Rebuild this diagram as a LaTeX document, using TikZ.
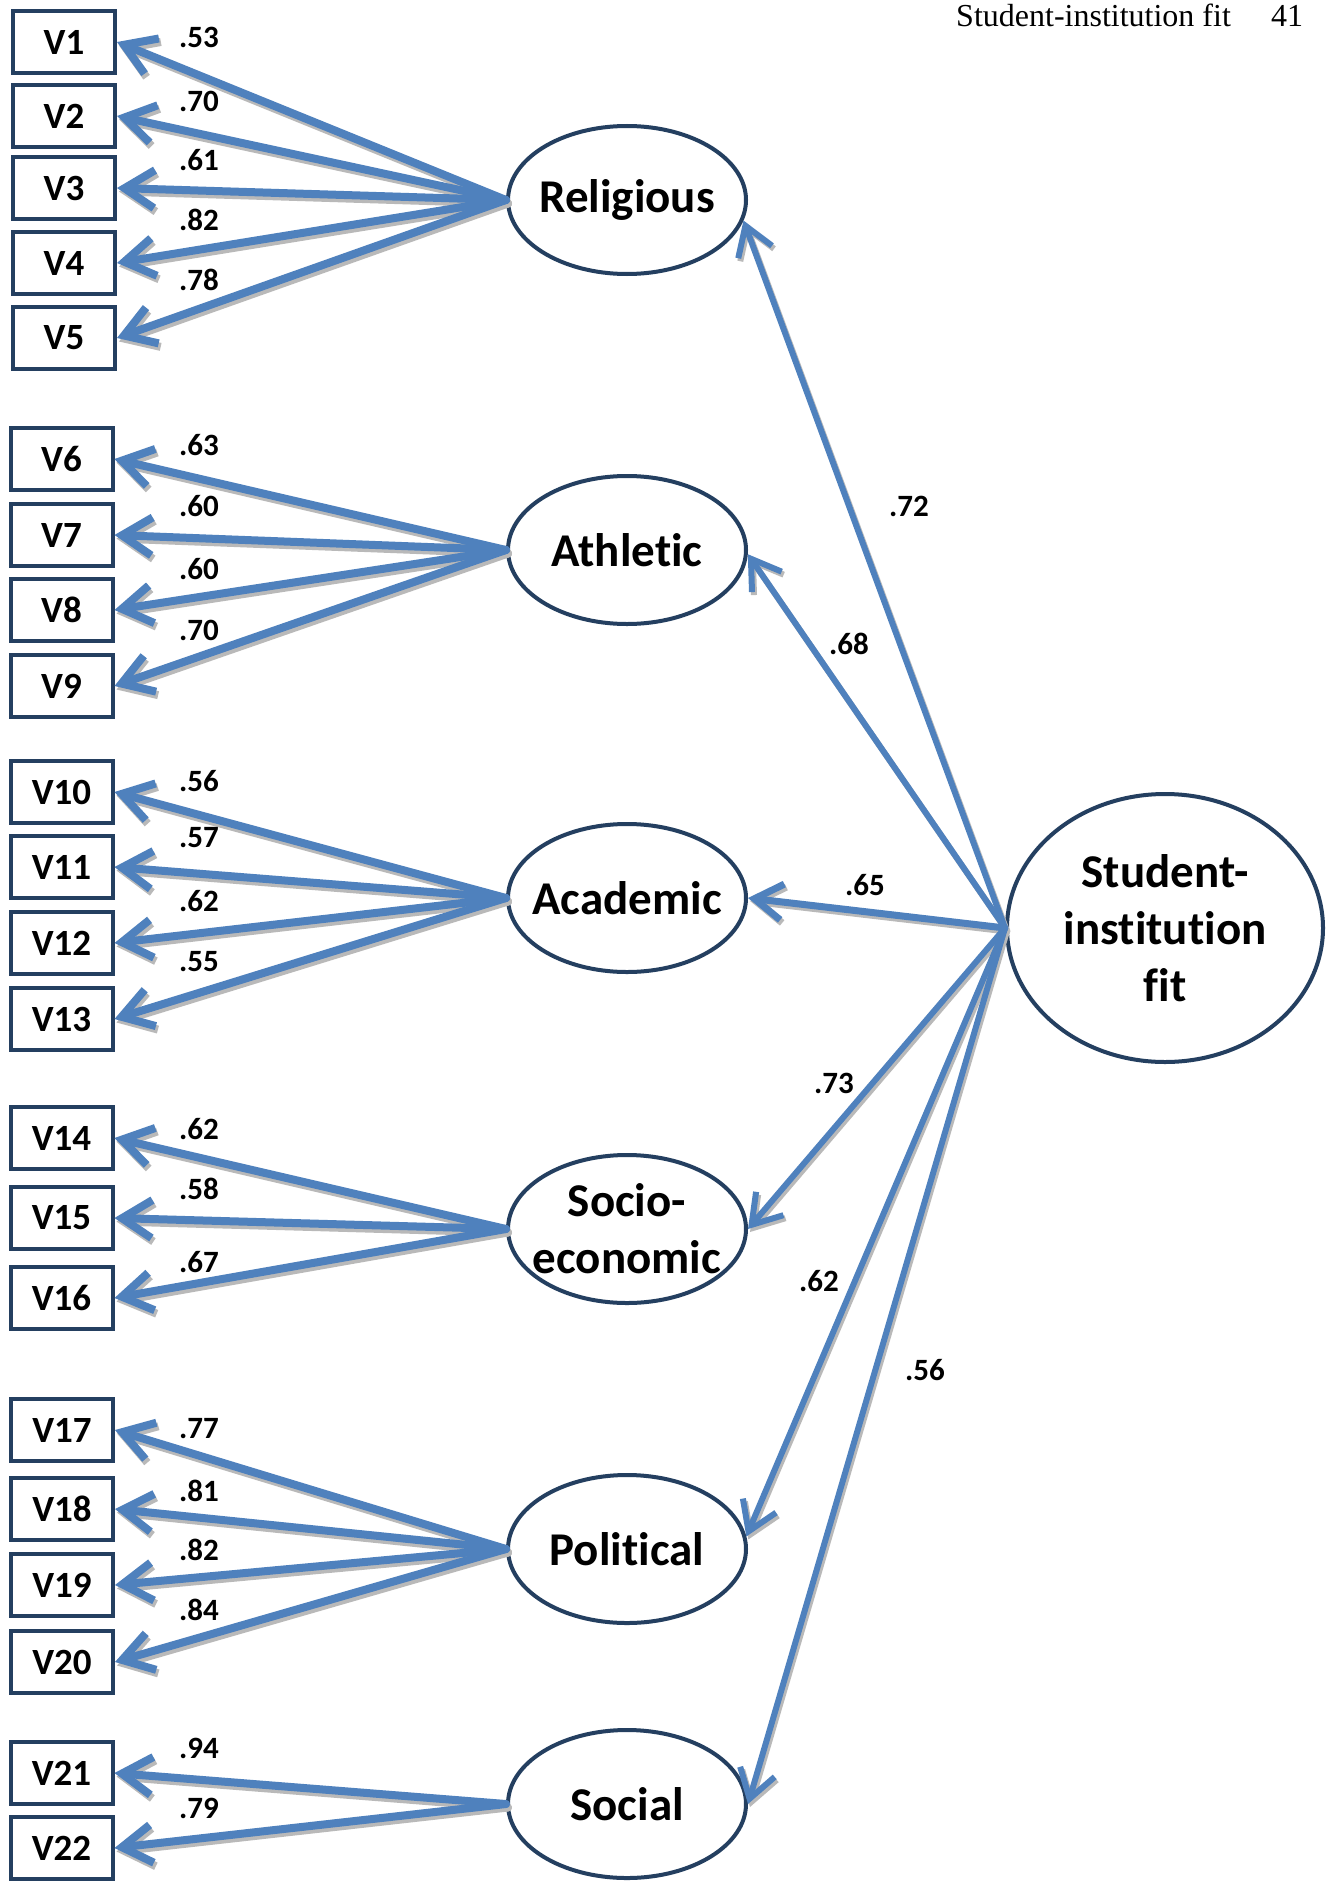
\documentclass[tikz,border=0pt]{standalone}
\usepackage{fontspec}
\setmainfont{Carlito}[Ligatures=NoCommon]
\newfontfamily\hdrfont{Liberation Serif}
\usetikzlibrary{arrows.meta,shapes.geometric}
\definecolor{arrowblue}{RGB}{79,129,189}
\definecolor{navy}{RGB}{36,63,96}
\begin{document}
\begin{tikzpicture}[x=1pt,y=-1pt,
  obs/.style={draw=navy,fill=white,line width=4pt,minimum width=102pt,minimum height=62pt,inner sep=0pt,font=\fontsize{37}{37}\selectfont\bfseries},
  lat/.style={ellipse,draw=navy,fill=white,line width=4pt,minimum width=238pt,minimum height=148pt,inner sep=0pt},
  lattext/.style={font=\fontsize{47}{57}\selectfont\bfseries,align=center,inner sep=0pt},
  load/.style={font=\fontsize{31}{31}\selectfont\bfseries,inner sep=0pt},
  ind/.style={draw=arrowblue,line width=8pt,line cap=round,line join=round,-{Straight Barb[length=30pt,width=38pt]}},
  str/.style={draw=arrowblue,line width=6pt,line cap=round,line join=round,-{Straight Barb[length=28pt,width=36pt]}},
  shadowline/.style={draw=gray!55},
  hdr/.style={font=\hdrfont\fontsize{32}{32}\selectfont,anchor=base west,inner sep=0pt}
]
\useasboundingbox (0,0) rectangle (1330,1881);
\fill[white] (0,0) rectangle (1330,1881);

% header
\node[hdr] (hdrtext) at (956,27) {Student-institution fit};
\node[hdr] (pagenum) at (1271,27) {41};

% latent factors
\node[lat,label={[lattext,name=relT]center:Religious}] (rel) at (627,200) {};
\node[lat,label={[lattext,name=athT]center:Athletic}] (ath) at (627,550) {};
\node[lat,label={[lattext,name=acaT]center:Academic}] (aca) at (627,898) {};
\node[lat,label={[lattext,name=socT]center:{Socio-\\economic}}] (soc) at (627,1229) {};
\node[lat,label={[lattext,name=polT]center:Political}] (pol) at (627,1549) {};
\node[lat,label={[lattext,name=sofT]center:Social}] (sof) at (627,1804) {};
\node[lat,minimum width=316pt,minimum height=268pt,label={[lattext,name=sifT]center:{Student-\\institution\\fit}}] (sif) at (1165,928) {};

% observed variables
\node[obs] (v1) at (64,42) {V1};
\node[obs] (v2) at (64,116) {V2};
\node[obs] (v3) at (64,188) {V3};
\node[obs] (v4) at (64,263) {V4};
\node[obs] (v5) at (64,338) {V5};
\node[obs] (v6) at (61.5,459) {V6};
\node[obs] (v7) at (61.5,535) {V7};
\node[obs] (v8) at (61.5,610) {V8};
\node[obs] (v9) at (61.5,686) {V9};
\node[obs] (v10) at (61.5,792) {V10};
\node[obs] (v11) at (61.5,867) {V11};
\node[obs] (v12) at (61.5,943) {V12};
\node[obs] (v13) at (61.5,1019) {V13};
\node[obs] (v14) at (61.5,1138) {V14};
\node[obs] (v15) at (61.5,1218) {V15};
\node[obs] (v16) at (61.5,1298) {V16};
\node[obs] (v17) at (62,1430) {V17};
\node[obs] (v18) at (62,1509) {V18};
\node[obs] (v19) at (62,1585) {V19};
\node[obs] (v20) at (62,1662) {V20};
\node[obs] (v21) at (61.5,1773) {V21};
\node[obs] (v22) at (61.5,1848) {V22};

% shadows of indicator arrows
\foreach \l/\v in {rel/1,rel/2,rel/3,rel/4,rel/5,ath/6,ath/7,ath/8,ath/9,aca/10,aca/11,aca/12,aca/13,soc/14,soc/15,soc/16,pol/17,pol/18,pol/19,pol/20,sof/21,sof/22}
  \draw[ind,shadowline] ([shift={(2,3.5)}]\l.west) -- ([shift={(2,3.5)}]v\v.east);
% shadows of structural arrows
\draw[str,shadowline] ([shift={(2,3)}]sif.west) -- ([shift={(2,3)}]rel.-10);
\draw[str,shadowline] ([shift={(2,3)}]sif.west) -- ([shift={(2,3)}]ath.-2);
\draw[str,shadowline,line width=7pt] ([shift={(2,3)}]sif.west) -- ([shift={(2,3)}]aca.east);
\draw[str,shadowline] ([shift={(2,3)}]sif.west) -- ([shift={(2,3)}]soc.east);
\draw[str,shadowline] ([shift={(2,3)}]sif.west) -- ([shift={(2,3)}]pol.6);
\draw[str,shadowline] ([shift={(2,3)}]sif.west) -- ([shift={(2,3)}]sof.east);

% indicator arrows
\foreach \l/\v in {rel/1,rel/2,rel/3,rel/4,rel/5,ath/6,ath/7,ath/8,ath/9,aca/10,aca/11,aca/12,aca/13,soc/14,soc/15,soc/16,pol/17,pol/18,pol/19,pol/20,sof/21,sof/22}
  \draw[ind] (\l.west) -- (v\v.east);

% structural arrows
\draw[str] (sif.west) -- (rel.-10);
\draw[str] (sif.west) -- (ath.-2);
\draw[str,line width=7pt] (sif.west) -- (aca.east);
\draw[str] (sif.west) -- (soc.east);
\draw[str] (sif.west) -- (pol.6);
\draw[str] (sif.west) -- (sof.east);

% loadings
\node[load] (l1) at (199,37) {.53};
\node[load] (l2) at (199,101) {.70};
\node[load] (l3) at (199,160) {.61};
\node[load] (l4) at (199,220) {.82};
\node[load] (l5) at (199,280) {.78};
\node[load] (l6) at (199,445) {.63};
\node[load] (l7) at (199,506) {.60};
\node[load] (l8) at (199,569) {.60};
\node[load] (l9) at (199,630) {.70};
\node[load] (l10) at (199,781) {.56};
\node[load] (l11) at (199,838) {.57};
\node[load] (l12) at (199,901) {.62};
\node[load] (l13) at (199,962) {.55};
\node[load] (l14) at (199,1129) {.62};
\node[load] (l15) at (199,1189) {.58};
\node[load] (l16) at (199,1262) {.67};
\node[load] (l17) at (199,1429) {.77};
\node[load] (l18) at (199,1491) {.81};
\node[load] (l19) at (199,1550) {.82};
\node[load] (l20) at (199,1610) {.84};
\node[load] (l21) at (199,1748) {.94};
\node[load] (l22) at (199,1808) {.79};

\node[load] (s1) at (909,506) {.72};
\node[load] (s2) at (849,644) {.68};
\node[load] (s3) at (865,885) {.65};
\node[load] (s4) at (834,1083) {.73};
\node[load] (s5) at (819,1281) {.62};
\node[load] (s6) at (925,1370) {.56};
\end{tikzpicture}
\end{document}
